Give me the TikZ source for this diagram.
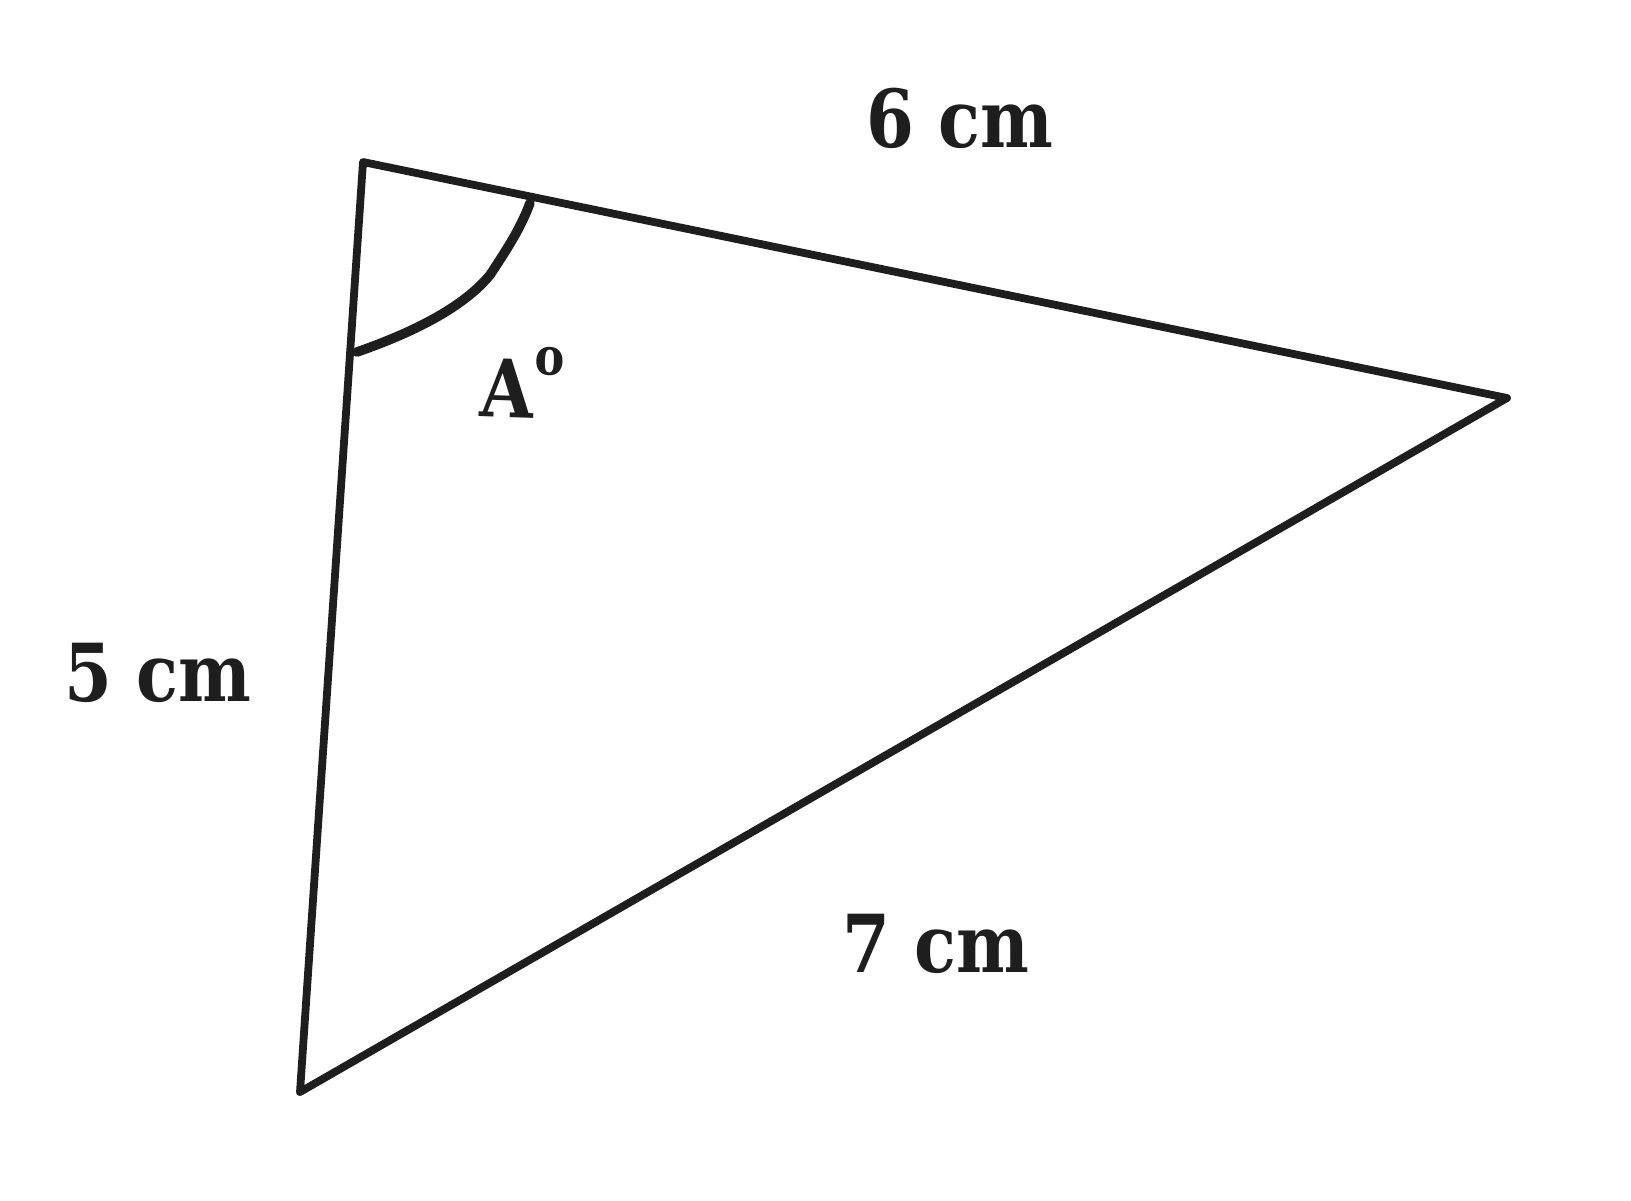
\documentclass[tikz,border=0pt]{standalone}
\usepackage{fontspec}
\setmainfont{DejaVu Serif}[FakeStretch=0.86]
\definecolor{ink}{HTML}{1E1E1E}
\begin{document}
\begin{tikzpicture}[x=0.5pt,y=-0.5pt,
  side/.style={draw=ink,line width=3.9pt,line join=round,line cap=round},
  arcline/.style={draw=ink,line width=4.8pt,line cap=round},
  lbl/.style={text=ink,font=\fontsize{40}{40}\selectfont\bfseries,inner sep=0pt}]
\useasboundingbox (0,0) rectangle (1631,1200);
\coordinate (P) at (363,162);
\coordinate (Q) at (1507,398);
\coordinate (R) at (300,1092);
\draw[side] (P) -- (Q) -- (R) -- cycle;
\coordinate (a1) at (357,352);
\coordinate (a2) at (530,203);
\draw[arcline] (a1) .. controls (420,330) and (465,305) .. (490,275)
  .. controls (505,252) and (520,230) .. (a2);
\node[lbl] (l6) at (960,118) {6 cm};
\node[lbl] (l5) at (158,673) {5 cm};
\node[lbl] (l7) at (936,944) {7 cm};
\node[lbl,rotate=-2] (lA) at (522,382) {A\raisebox{0.55em}{\fontsize{26}{26}\selectfont o}};
\end{tikzpicture}
\end{document}
